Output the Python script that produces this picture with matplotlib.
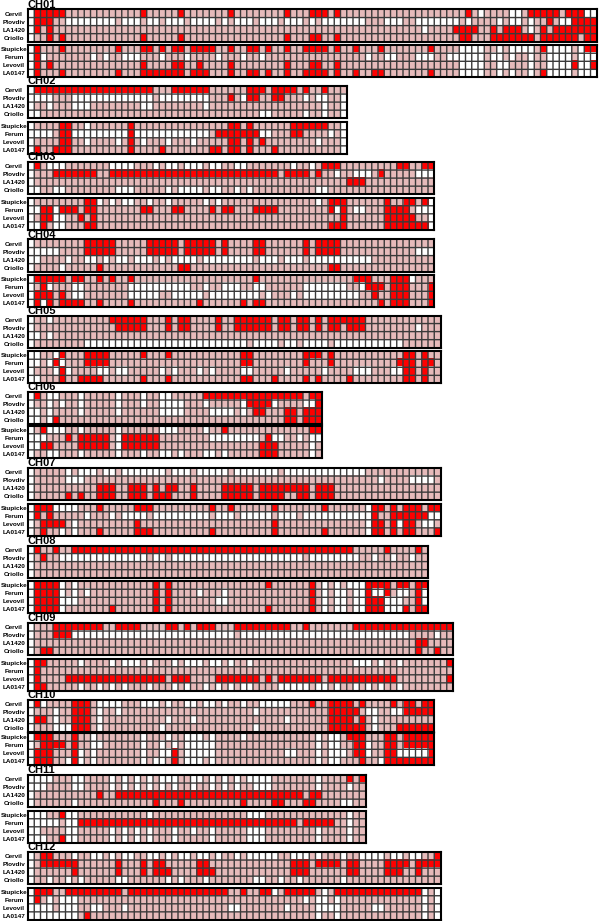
import numpy as np
import matplotlib
matplotlib.use("Agg")
import matplotlib.pyplot as plt
from matplotlib.colors import ListedColormap

ROWS_TOP = ["Cervil", "Plovdiv", "LA1420", "Criollo"]
ROWS_BOTTOM = ["Stupicke", "Ferum", "Levovil", "LA0147"]
CHROMS = ["CH%02d" % i for i in range(1, 13)]
NCOLS = [91, 51, 65, 65, 66, 47, 66, 64, 68, 65, 54, 66]

# Cell states per row, listed as column ranges; all other cells are intermediate (pink)
RED = [
 ["1-5 18 24 32 41 45-47 49 70 80-84 86-88",
  "1-3 83 87-90",
  "1 3 68-71 74 76-78 82 84-90",
  "3 5 18 24 41 45 46 49 69 70 74-80 82-87 89 90",
  "1 5 14 18 19 21 23 24 26-29 32 35 36 38 41 44-47 49 52 56 64 82 89 90",
  "1",
  "1 3 18 23 24 27 32 41 45 46 49 87 90",
  "1 5 14 18-24 26-28 32 35 36 38 41 44-47 49 52 55 56 64 82"],
 ["1-19 23-28 35-37 39-42 44 47",
  "32 35 36 39 40",
  "",
  "",
  "5 6 16 32 33 35 42-47",
  "5 6 16 30-36 42 43",
  "5 6 16 32 33 35 37",
  "1 4-6 16 21 29 30 32 33 35 39"],
 ["1 47-49 59 60 63 64",
  "4-10 13-39 41-44 46 56",
  "51-53",
  "",
  "9 10 48-50 57 60 61 63",
  "2 3 5-7 9 10 18 19 23 24 29 31 32 36-39 48 50 57-60",
  "2 3 8 10 50 57-61",
  "2 9 10 48-50 57-63"],
 ["9-13 19-23 25-29 31 36 37 44 46-49",
  "9-13 19-23 25-29 31 36 37 44 46-49",
  "",
  "11 24 25 48 49",
  "1-5 7 8 11 13 16 36 52-54 58-60",
  "2 54-56 58-60 64",
  "1-3 5 55 58-60 64",
  "1 3 5-8 11 16 27 34 36 37 56 58-60 64"],
 ["13-18 22 24 25 30 33-38 40 41 43 44 46 48-53",
  "14-18 22 24 25 30 33-38 40 41 43 44 46 48 49 51-53",
  "",
  "",
  "5 9-12 18 22 34 35 44-46 48 60 61 63",
  "4 9-12 34 35 44 48 59-61 63 64",
  "5 60 61 63",
  "5 8-11 18 22 34 35 39 44 46 51 60 61 63"],
 ["1 28-43 45 46",
  "35-38 46",
  "36 37 41 42 44-46",
  "4 41 42 44-46",
  "2 31 45 46",
  "6 8-12 15-20 38",
  "2 3 8-12 15-20 37-39",
  "37-39"],
 ["",
  "",
  "11-13 16-18 20 22 23 26 31-35 37-44 46-48",
  "6 8 11-13 16-18 20-22 26 31-35 37-40 43 44 46-48",
  "1-3 11 17-19 29 32 39 47 55 56 58 60-62 64 65",
  "1 3 55 58-63",
  "2-5 17 39 55 56 58 60 61",
  "2 11 17-19 29 39 47 55 56 58 60 61 65"],
 ["1 4 7-51 57 62",
  "2",
  "",
  "",
  "1-4 20 22 38 45 54-57 59 60 62 63",
  "1-4 20 22 45 54 57 62",
  "1-4 20 22 45 54-56 62",
  "1-4 13 20 22 38 45 54-56 60 62 63"],
 ["4-11 14-17 22 23 25 27-29 33-41 44 52-67",
  "4-6",
  "62 63",
  "2 3 62 65",
  "1 2 67",
  "1",
  "1 6-21 23-25 30-36 38 40-46 48-58 67",
  "1 2"],
 ["1 7-9 45 48-51 53 58 60 61 63 64",
  "7-9 48-52 60-64",
  "1 2 7-9 48-51 53",
  "7-9 48-53 59-64",
  "1-3 7 51-53 57 58 60-64",
  "2-5 7 52 53 57 58 60-64",
  "1-3 7 23 52 53 57 58 64",
  "1-3 7 23 53 57-64"],
 ["51 53",
  "",
  "11 14-43 45 46",
  "20 24 34 39 40 44 45",
  "5",
  "8-42 44-48",
  "",
  "5"],
 ["2 3 65",
  "2-7 14 18 20 21 27 28 42-44 46-49 51 52 57-60 62-65",
  "7 14 18 20-22 27-29 42-44 51 52 57-59 62",
  "",
  "1-3 6-14 16-31 34 37 38 41-45 49-62",
  "1",
  "",
  "9"],
]

WHITE = [
 ["0 72 77 78 89 90",
  "0 6-13 15-17 19 20 22-24 26-29 31 33-35 37-39 41-43 45 47-53 57-59 62-68 70 75 77 78 80 85 86",
  "0 63 80",
  "0",
  "0 69-72 75 77-79 80 83-86 88",
  "0 2 10 12 15-17 21 25 30 34 37 54 57 58 62-64 67-72 74 75 77 80 83-86 88-90",
  "0 69-72 75 76 80 83-86 88 89",
  "0 69-72 75 77 80 83-86 88-90"],
 ["0",
  "0-3 7-19 21-28 34 44 46 47 50",
  "0 3 7-9 18 19 28 47 50",
  "0 1 37 38 44 47 50",
  "0 9 50",
  "0-3 7-15 17-28 37 38 48 50",
  "0 9 14 18 22 26 46 50",
  "0 50"],
 ["0 3-5 13-16 20 22 23 25-27 29 30 33 34 42 45",
  "0 49 52 53 54 62-64",
  "0",
  "0 1 4 5 14-16 22 24-27 29 30 33 35 46 47",
  "0 11 13 15 16 19 22 28 30 46 64",
  "0 1 4 49 52 53 62-64",
  "0 4 5 64",
  "0 1 4 5 64"],
 ["0",
  "0-4 62-64",
  "0 1 6 9 10 12 14 15 17-19 21 23-26 28-35 37-39 41-43 45-54",
  "0 5",
  "0 61",
  "0 3 7 8 16-25 28 31-33 36 37 44-50 53",
  "0 7 8 16-20 23-27 29-36 38 42 44-50 51 52",
  "0 2"],
 ["0 3",
  "0 62",
  "0 1 3",
  "0 9-34 36-39 41 42 44-47 49-59",
  "0 1 4",
  "0 1 3 5",
  "0 4 6 11 12 14 15 21 23 27 29 34 35 41 47 52-54 58 59",
  "0 1"],
 ["0 3 4 8 14 18 21 22",
  "0 3 5 8 14 18 21-24 28 34 39 44 45",
  "0 1 3 8 14 21-24 29-32 34",
  "0 1 3",
  "0 3-5 8 14 21-23 28",
  "0 1 2 14 29-36 39 40 43 45 46",
  "0 1 14 45",
  "0 3 4 8 14 18 21 22 24 28 29 31 45"],
 ["0 6 8-10 12 13 15-21 23-25 27-31 33-39 41-53",
  "0 6-8 56 61-64",
  "0",
  "0",
  "0 4-7 54",
  "0 9 13 15-18 20-28 30-32 34-38 40-42 44-54 64 65",
  "0 7 54 59 63 64",
  "0 5 7 54"],
 ["0",
  "0 5-18 20 21 23-43 45-52 55 58 61",
  "0",
  "0",
  "0 5 7 47 49 51-53",
  "0 5 7 9 27 31 47 49 50 52 53 55 56 59 60 63",
  "0 5-7 30 31 47 49 50 52 53 57-59 63",
  "0 5 47 49 50 52 53 57-59"],
 ["0",
  "0 7-32 34-60 65",
  "0",
  "0",
  "0 8 13 15-17 19 23 25-27 29 30 32 35 52-54 56 59",
  "0",
  "0",
  "0 8 11 13 15 19 23 25 28 30 32 34 35 40 41 41-44 46 47 49 52 54 56 59"],
 ["0 2 11-14 18-20 22 25 26 28 29 31 34 37-40 41",
  "0 4 11 14 36 54 55 58 59",
  "0 4 11 22 26 41 55",
  "0 4-6 11 21 36 55",
  "0 10 18 22 25 26 27 29 34 46 48 49",
  "0 10 11 18 21 23 25-29 46 48 49 54 58",
  "0 8 10 18 21 22 25-29 41 42 46 48-50 54 59-63",
  "0 6 8 10 18 20 21 25-27 29 46 48 49 56"],
 ["0-3 7 8 13 15 17 19 21-23 26 27 29 31 33 35-38 46",
  "0-2 7 8 13 15 17 19 21 23 26 29 31 33 36-38 46 51",
  "0",
  "0 7 50 51",
  "0-2 6 7 19 35-37 51",
  "0-2 3 4 6 7 51",
  "0 1 6 7 13 15 17 19 23 26 29 35-37 46 51",
  "0-2 6 7 13 15 17 19 23 29 35-37 46 51"],
 ["0 7 10 11 13 15 16 19 20 22 24 25 27 28 30 33 35-39 42-44 46 50 53-56 58 59 61 62",
  "0",
  "0",
  "0 3 6 8 14 15 22 24 28 36 37 40 43 50",
  "0 39 47 63 65",
  "0 3 5-7 44 46 47 49 63 65",
  "0-3 5-7 10 11 15 32 33 41 46-49 55 56 63 65",
  "0-7 46 49 63 65"],
]

PANEL_TOP = [9.5, 86, 162, 239.5, 315.5, 392, 468, 545.5, 623, 699.5, 775, 852]
PANEL_GAP = [3.5, 3.5, 3.5, 3.5, 3.5, 1.5, 3.5, 3.5, 3.5, 1.5, 3.5, 3.5]

W, H = 600, 921
CELL_W, CELL_H = 6.25, 8.05
LEFT = 28
FS_LABEL = 4.6

plt.rcParams["font.family"] = ["Liberation Sans", "DejaVu Sans"]
cmap = ListedColormap(["#ffffff", "#e6baba", "#ff0000"])


def cols(spec):
    out = []
    for part in spec.split():
        if "-" in part:
            a, b = part.split("-")
            out.extend(range(int(a), int(b) + 1))
        else:
            out.append(int(part))
    return out


def matrix(red, white, n):
    m = np.ones((len(red), n), dtype=int)
    for r, (rs, ws) in enumerate(zip(red, white)):
        m[r, [c for c in cols(ws) if c < n]] = 0
        m[r, [c for c in cols(rs) if c < n]] = 2
    return m


def panel(fig, top, n, data, labels):
    ax = fig.add_axes([LEFT / W, 1 - (top + 4 * CELL_H) / H, n * CELL_W / W, 4 * CELL_H / H])
    ax.imshow(data, cmap=cmap, vmin=0, vmax=2, extent=(0, n, 4, 0), aspect="auto",
              interpolation="nearest")
    vl = ax.vlines(np.arange(1, n), 0, 4, color="#3a3a3a", linewidth=1.0)
    hl = ax.hlines(np.arange(1, 4), 0, n, color="#3a3a3a", linewidth=1.0)
    vl.set_snap(False)
    hl.set_snap(False)
    ax.set_xlim(0, n)
    ax.set_ylim(4, 0)
    ax.set_xticks([])
    ax.set_yticks(np.arange(4) + 0.5)
    ax.set_yticklabels(labels, fontsize=FS_LABEL, fontweight="bold", ha="center")
    ax.tick_params(axis="y", length=0, pad=10)
    for s in ax.spines.values():
        s.set_linewidth(1.5)
        s.set_color("black")
    return ax


fig = plt.figure(figsize=(W / 100, H / 100), dpi=100)
for i, name in enumerate(CHROMS):
    m = matrix(RED[i], WHITE[i], NCOLS[i])
    t = PANEL_TOP[i]
    ax = panel(fig, t, NCOLS[i], m[:4], ROWS_TOP)
    panel(fig, t + 4 * CELL_H + PANEL_GAP[i], NCOLS[i], m[4:], ROWS_BOTTOM)
    ax.text(0, 0.985, name, transform=ax.transAxes, fontsize=8, fontweight="bold",
            ha="left", va="bottom")
fig.savefig("out.png", dpi=100)
